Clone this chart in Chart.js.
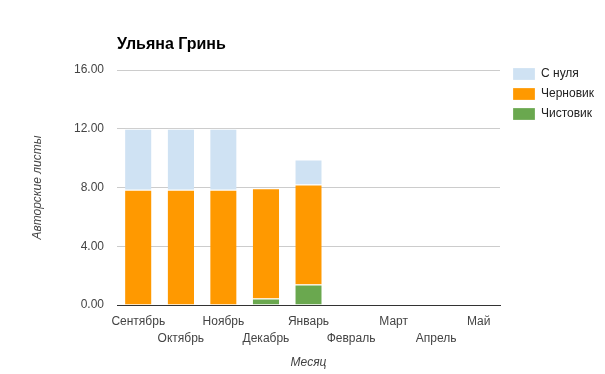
<!DOCTYPE html>
<html>
<head>
<meta charset="utf-8">
<script src="https://cdn.jsdelivr.net/npm/chart.js@4"></script>
<style>
  html, body { margin: 0; padding: 0; background: #fff; }
  #wrap { width: 605px; height: 374px; }
</style>
</head>
<body>
<div id="wrap"><canvas id="chart" width="605" height="374"></canvas></div>
<script>
// Chart data
const months = ['Сентябрь', 'Октябрь', 'Ноябрь', 'Декабрь', 'Январь', 'Февраль', 'Март', 'Апрель', 'Май'];
const cleanCopy = [0, 0, 0, 0.45, 1.4, null, null, null, null];     // Чистовик
const draft = [7.85, 7.85, 7.85, 7.5, 6.8, null, null, null, null];   // Черновик
const fromScratch = [4.15, 4.15, 4.15, 0, 1.7, null, null, null, null]; // С нуля
const yTicks = [0, 4, 8, 12, 16];

const FONT = '"Liberation Sans", Arial, sans-serif';
Chart.defaults.font.family = FONT;
Chart.defaults.font.size = 12;
Chart.defaults.color = '#444';

// title drawn at the left of the plot area, like the original
const titlePlugin = {
    id: 'leftTitle',
    afterLayout(chart) {
        // pull legend up/left to where the reference has it
        chart.legend.top = 60;
        chart.legend.left = 505;
    },
    afterDraw(chart) {
        const ctx = chart.ctx;
        ctx.save();
        ctx.font = 'bold 16px ' + FONT;
        ctx.fillStyle = '#000';
        ctx.textBaseline = 'alphabetic';
        ctx.fillText('Ульяна Гринь', chart.chartArea.left, 49);
        ctx.restore();
    }
};

const barCommon = {
    borderColor: '#fff',
    borderWidth: { top: 1, left: 0, right: 0, bottom: 0 },
    borderSkipped: false,
    barPercentage: 0.62,
    categoryPercentage: 1
};

new Chart(document.getElementById('chart').getContext('2d'), {
    type: 'bar',
    data: {
        labels: months,
        datasets: [
            { label: 'Чистовик', data: cleanCopy, backgroundColor: '#6aa84f', ...barCommon },
            { label: 'Черновик', data: draft, backgroundColor: '#ff9900', ...barCommon },
            { label: 'С нуля', data: fromScratch, backgroundColor: '#cfe2f3', ...barCommon }
        ]
    },
    options: {
        responsive: false,
        animation: false,
        layout: { padding: { top: 70, left: 26, right: 6, bottom: 0 } },
        plugins: {
            title: { display: false },
            tooltip: { enabled: false },
            legend: {
                position: 'right',
                align: 'start',
                reverse: true,
                labels: {
                    boxWidth: 22,
                    boxHeight: 12,
                    padding: 8,
                    color: '#222',
                    font: { size: 12 }
                }
            }
        },
        scales: {
            x: {
                stacked: true,
                grid: { display: false },
                border: { display: true, color: '#333' },
                ticks: {
                    autoSkip: false,
                    maxRotation: 0,
                    padding: 1,
                    color: '#444',
                    font: { size: 12, lineHeight: 1.35 },
                    callback: (v, i) => i % 2 === 0 ? [months[i], ''] : ['', months[i]]
                },
                title: {
                    display: true,
                    text: 'Месяц',
                    color: '#444',
                    font: { style: 'italic', size: 12 }
                },
                afterFit(scale) { scale.height = 69; }
            },
            y: {
                stacked: true,
                min: 0,
                max: 16,
                border: { display: false },
                grid: {
                    drawTicks: false,
                    color: ctx => ctx.tick && ctx.tick.value === 0 ? '#333' : '#cccccc'
                },
                afterBuildTicks(scale) {
                    scale.ticks = yTicks.map(v => ({ value: v }));
                },
                ticks: {
                    padding: 13,
                    color: '#444',
                    callback: v => v.toFixed(2)
                },
                title: {
                    display: true,
                    text: 'Авторские листы',
                    color: '#444',
                    font: { style: 'italic', size: 12 }
                },
                afterFit(scale) { scale.width = 91; }
            }
        }
    },
    plugins: [titlePlugin]
});
</script>
</body>
</html>
